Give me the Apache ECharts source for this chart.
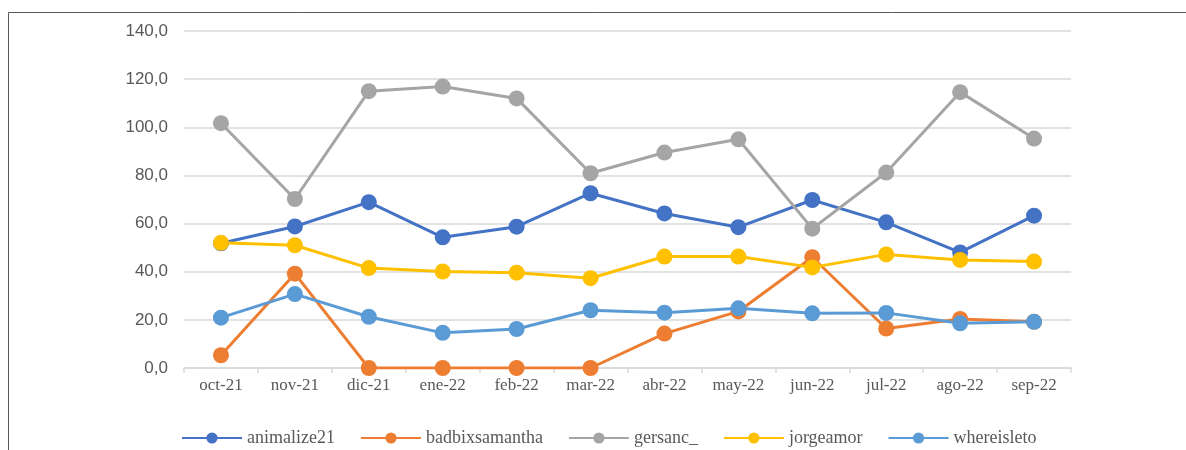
<!DOCTYPE html>
<html>
<head>
<meta charset="utf-8">
<script src="https://cdn.jsdelivr.net/npm/echarts@6/dist/echarts.min.js"></script>
<style>
  html, body { margin: 0; padding: 0; background: #fff; }
  #chart { width: 1186px; height: 450px; }
</style>
</head>
<body>
<div id="chart"></div>
<script>
// Monthly values per account, Oct 2021 – Sep 2022
const months = ['oct-21', 'nov-21', 'dic-21', 'ene-22', 'feb-22', 'mar-22',
                'abr-22', 'may-22', 'jun-22', 'jul-22', 'ago-22', 'sep-22'];

const animalize21    = [51.8, 58.8, 68.9, 54.3, 58.7, 72.6, 64.2, 58.5, 69.8, 60.5, 48.0, 63.3];
const badbixsamantha = [5.3, 39.2, 0, 0, 0, 0, 14.3, 23.5, 46.0, 16.4, 20.4, 19.2];
const gersanc_       = [101.7, 70.2, 115.0, 116.9, 112.0, 80.9, 89.5, 95.0, 57.9, 81.2, 114.6, 95.3];
const jorgeamor      = [52.0, 51.0, 41.5, 40.1, 39.6, 37.3, 46.3, 46.3, 41.8, 47.2, 44.9, 44.2];
const whereisleto    = [20.9, 30.7, 21.3, 14.6, 16.2, 24.0, 23.0, 24.8, 22.7, 22.9, 18.6, 19.2];

const yTicks = { min: 0, max: 140, interval: 20 };

const seriesDefs = [
  { name: 'animalize21',    data: animalize21,    color: '#4472C4' },
  { name: 'badbixsamantha', data: badbixsamantha, color: '#ED7D31' },
  { name: 'gersanc_',       data: gersanc_,       color: '#A5A5A5' },
  { name: 'jorgeamor',      data: jorgeamor,      color: '#FFC000' },
  { name: 'whereisleto',    data: whereisleto,    color: '#5B9BD5' }
];

const chart = echarts.init(document.getElementById('chart'), null, { renderer: 'canvas' });

chart.setOption({
  animation: false,
  backgroundColor: '#ffffff',
  graphic: [{
    type: 'rect',
    shape: { x: 8.5, y: 12.5, width: 1300, height: 600 },
    style: { fill: 'none', stroke: '#595959', lineWidth: 1 },
    silent: true,
    z: -1
  }],
  grid: { left: 184, right: 115, top: 31, bottom: 82, containLabel: false },
  legend: {
    left: 181,
    top: 429,
    padding: 0,
    itemWidth: 60,
    itemHeight: 14,
    itemGap: 25,
    textStyle: { fontFamily: '"Liberation Serif", "DejaVu Serif", serif', fontSize: 18, color: '#595959' },
    data: seriesDefs.map(s => s.name)
  },
  xAxis: {
    type: 'category',
    data: months,
    boundaryGap: true,
    axisLine: { show: true, lineStyle: { color: '#d9d9d9', width: 1.5 } },
    axisTick: { show: true, length: 5, lineStyle: { color: '#d9d9d9', width: 1.5 } },
    axisLabel: {
      margin: 9,
      fontFamily: '"Liberation Serif", "DejaVu Serif", serif',
      fontSize: 17,
      color: '#595959'
    },
    splitLine: { show: false }
  },
  yAxis: {
    type: 'value',
    min: yTicks.min,
    max: yTicks.max,
    interval: yTicks.interval,
    axisLine: { show: false },
    axisTick: { show: false },
    axisLabel: {
      margin: 16,
      fontFamily: '"Liberation Sans", Arial, sans-serif',
      fontSize: 17,
      color: '#595959',
      formatter: v => v.toFixed(1).replace('.', ',')
    },
    splitLine: { show: true, lineStyle: { color: '#d9d9d9', width: 1.5 } }
  },
  series: seriesDefs.map(s => ({
    name: s.name,
    type: 'line',
    data: s.data,
    symbol: 'circle',
    symbolSize: 16,
    showAllSymbol: true,
    itemStyle: { color: s.color, borderWidth: 0 },
    lineStyle: { color: s.color, width: 3 },
    emphasis: { disabled: true }
  }))
});
</script>
</body>
</html>
